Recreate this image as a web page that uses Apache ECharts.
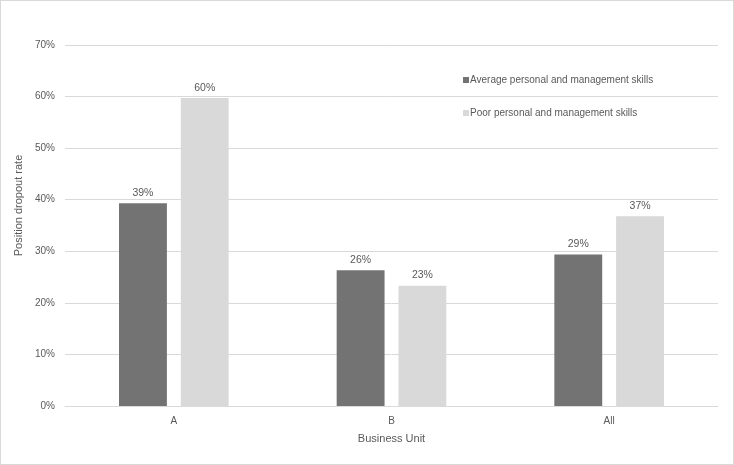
<!DOCTYPE html>
<html><head><meta charset="utf-8">
<script src="https://cdn.jsdelivr.net/npm/echarts@6/dist/echarts.min.js"></script>
<style>
html,body{margin:0;padding:0;background:#fff;}
#c{width:732px;height:463px;border:1px solid #d9d9d9;}
</style></head>
<body><div id="c"></div>
<script>
const categories = ['A', 'B', 'All'];
const seriesNames = ['Average personal and management skills', 'Poor personal and management skills'];
const averageSkills = [39.3, 26.3, 29.4];
const poorSkills = [59.7, 23.3, 36.8];
const yTicks = [0, 10, 20, 30, 40, 50, 60, 70];

const chart = echarts.init(document.getElementById('c'), null, {renderer: 'canvas'});
const txt = '#595959';
const font = '"Liberation Sans", Arial, sans-serif';
const lbl = {show: true, position: 'top', distance: 5, color: txt, fontSize: 10.5, fontFamily: font,
  formatter: p => Math.round(p.value) + '%'};
chart.setOption({
  animation: false,
  textStyle: {fontFamily: font},
  grid: {left: 64, right: 15, top: 44, bottom: 58, containLabel: false},
  legend: {
    orient: 'vertical', left: 457, top: 69, itemGap: 23,
    icon: 'rect', itemWidth: 6, itemHeight: 6,
    textStyle: {color: txt, fontSize: 10, fontFamily: font, padding: [0, 0, 0, -4]},
    data: seriesNames
  },
  xAxis: {
    type: 'category', data: categories,
    name: 'Business Unit', nameLocation: 'middle', nameGap: 27,
    nameTextStyle: {color: txt, fontSize: 11, fontFamily: font},
    axisLine: {lineStyle: {color: '#d9d9d9'}},
    axisTick: {show: false},
    axisLabel: {color: txt, fontSize: 10, margin: 10, fontFamily: font}
  },
  yAxis: {
    type: 'value', min: yTicks[0], max: yTicks[yTicks.length - 1], interval: 10,
    name: 'Position dropout rate', nameLocation: 'middle', nameGap: 40,
    nameTextStyle: {color: txt, fontSize: 11, fontFamily: font, padding: [0, 0, 0, 40]},
    axisLine: {show: false}, axisTick: {show: false},
    axisLabel: {color: txt, fontSize: 10, margin: 10, fontFamily: font, formatter: v => v + '%'},
    splitLine: {lineStyle: {color: '#d9d9d9'}}
  },
  series: [
    {name: seriesNames[0], type: 'bar', data: averageSkills, barWidth: '22%', barGap: '29%',
     itemStyle: {color: '#737373'}, label: lbl},
    {name: seriesNames[1], type: 'bar', data: poorSkills, barWidth: '22%', barGap: '29%',
     itemStyle: {color: '#d9d9d9'}, label: lbl}
  ]
});
</script></body></html>
